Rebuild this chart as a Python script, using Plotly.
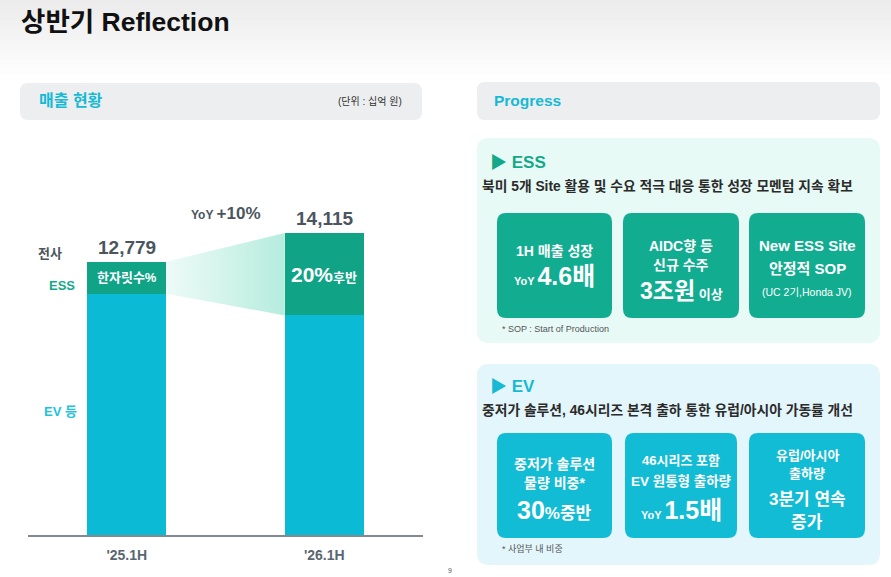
""" Half-year reflection slide: sales bars on the left, progress cards on the right """
import plotly.graph_objects as go

# data
periods = ["'25.1H", "'26.1H"]
total_sales = [12779, 14115]          # 십억 원
ess_sales = [1500, 3850]
ev_sales = [t - e for t, e in zip(total_sales, ess_sales)]
ess_share_labels = ["한자릿수%", "<span style='font-size:21px'>20%</span>후반"]
yoy_label = "+10%"

W, H = 891, 577
FONT = "Liberation Sans, Noto Sans CJK KR"
DARK = "#4b555e"
GREEN = "#14a88a"
CYAN = "#17b9d3"


def px(x):
    return x / W


def py(y):
    return 1 - y / H


def rrect(x0, y0, x1, y1, r):
    """ rounded rectangle path in pixel coords -> paper coords """
    pts = [
        ("M", [(x0 + r, y0)]), ("L", [(x1 - r, y0)]), ("Q", [(x1, y0), (x1, y0 + r)]),
        ("L", [(x1, y1 - r)]), ("Q", [(x1, y1), (x1 - r, y1)]), ("L", [(x0 + r, y1)]),
        ("Q", [(x0, y1), (x0, y1 - r)]), ("L", [(x0, y0 + r)]), ("Q", [(x0, y0), (x0 + r, y0)]),
    ]
    out = ""
    for cmd, ps in pts:
        out += cmd + " " + " ".join("%.5f,%.5f" % (px(a), py(b)) for a, b in ps) + " "
    return out + "Z"


shapes = []
annotations = []


def box(x0, y0, x1, y1, color, r=8):
    shapes.append(dict(type="path", path=rrect(x0, y0, x1, y1, r), xref="paper", yref="paper",
                       fillcolor=color, line_width=0, layer="below"))


def txt(x, y, s, size, color="white", bold=True, xanchor="center"):
    annotations.append(dict(x=px(x), y=py(y), xref="paper", yref="paper", text=("<b>%s</b>" % s) if bold else s,
                            showarrow=False, xanchor=xanchor, yanchor="middle",
                            font=dict(family=FONT, size=size, color=color)))


# top gray fade
steps = 16
for i in range(steps):
    g = int(236 + (255 - 236) * i / (steps - 1))
    shapes.append(dict(type="rect", xref="paper", yref="paper", x0=0, x1=1,
                       y0=py(80 * (i + 1) / steps), y1=py(80 * i / steps),
                       fillcolor="rgb(%d,%d,%d)" % (g, g, g), line_width=0, layer="below"))

# headers
box(20, 83, 422, 120, "#eceef0")
box(477, 82, 880, 120, "#eceef0")
txt(19, 22, "상반기 Reflection", 26.5, "#111111", xanchor="left")
txt(37, 101, "매출 현황", 16, CYAN, xanchor="left")
txt(404, 101, "(단위 : 십억 원)", 10, "#333333", bold=False, xanchor="right")
txt(492, 101, "Progress", 15.5, CYAN, xanchor="left")

# left chart labels
txt(50, 253, "전사", 13, DARK)
txt(62, 285, "ESS", 13, GREEN)
txt(60, 411, "EV 등", 13, "#1ec2dd")

# right panel: ESS
box(477, 138, 880, 343, "#e8faf5", r=12)
txt(488, 162, "▶ ESS", 17, GREEN, xanchor="left")
txt(480, 186, "북미 5개 Site 활용 및 수요 적극 대응 통한 성장 모멘텀 지속 확보", 13.8, "#2b2b2b", xanchor="left")
for x0, x1 in [(497, 612), (623, 739), (749, 865)]:
    box(x0, 213, x1, 318, "#12ad90", r=9)
txt(554, 251, "1H 매출 성장", 14)
txt(554, 276, "<span style='font-size:11px'>YoY </span>4.6배", 25)
txt(681, 246, "AIDC향 등", 14)
txt(681, 265, "신규 수주", 14)
txt(681, 291, "3조원<span style='font-size:13px'> 이상</span>", 23)
txt(807, 246, "New ESS Site", 15)
txt(807, 268, "안정적 SOP", 15)
txt(807, 292, "(UC 2기,Honda JV)", 10.5, bold=False)
txt(500, 329, "* SOP : Start of Production", 9, "#555555", bold=False, xanchor="left")

# right panel: EV
box(477, 364, 880, 565, "#e3f6fb", r=12)
txt(488, 386, "▶ EV", 17, CYAN, xanchor="left")
txt(480, 410, "중저가 솔루션, 46시리즈 본격 출하 통한 유럽/아시아 가동률 개선", 13.8, "#2b2b2b", xanchor="left")
for x0, x1 in [(497, 612), (625, 737), (749, 865)]:
    box(x0, 433, x1, 538, "#13bcd5", r=9)
txt(554, 464, "중저가 솔루션", 14)
txt(554, 483, "물량 비중*", 14)
txt(554, 510, "30<span style='font-size:17px'>%중반</span>", 25)
txt(681, 460, "46시리즈 포함", 13)
txt(681, 482, "EV 원통형 출하량", 13.5)
txt(681, 510, "<span style='font-size:11px'>YoY </span>1.5배", 25)
txt(807, 455, "유럽/아시아", 13)
txt(807, 473, "출하량", 13)
txt(807, 499, "3분기 연속", 17)
txt(807, 522, "증가", 17)
txt(500, 549, "* 사업부 내 비중", 9, "#555555", bold=False, xanchor="left")
txt(450, 570, "9", 7, "#555555", bold=False)

fig = go.Figure()

# connector between the ESS segments
hw = 0.2
fig.add_trace(go.Scatter(
    x=[0 + hw, 0 + hw, 1 - hw, 1 - hw, 0 + hw],
    y=[total_sales[0], ev_sales[0], ev_sales[1], total_sales[1], total_sales[0]],
    mode="lines", fill="toself", line_width=0, hoverinfo="skip", showlegend=False,
    fillgradient=dict(type="horizontal", colorscale=[[0, "rgba(235,250,246,0.9)"], [1, "#b5ecdd"]]),
))

fig.add_trace(go.Bar(x=[0, 1], y=ev_sales, width=0.4, marker=dict(color="#0bbad4", line_width=0),
                     hoverinfo="skip", showlegend=False))
fig.add_trace(go.Bar(x=[0, 1], y=ess_sales, width=0.4, marker=dict(color="#11a386", line_width=0),
                     hoverinfo="skip", showlegend=False))

# totals and share labels
for i, tot in enumerate(total_sales):
    annotations.append(dict(x=i, y=tot, xref="x", yref="y", text="<b>%s</b>" % format(tot, ","),
                            showarrow=False, yanchor="bottom", yshift=2,
                            font=dict(family=FONT, size=19, color=DARK)))
    annotations.append(dict(x=i, y=ev_sales[i] + ess_sales[i] / 2, xref="x", yref="y",
                            text="<b>%s</b>" % ess_share_labels[i], showarrow=False,
                            font=dict(family=FONT, size=13, color="white")))
annotations.append(dict(x=0.5, y=total_sales[1], xref="x", yref="y",
                        text="<b><span style='font-size:12px'>YoY </span>%s</b>" % yoy_label,
                        showarrow=False, yanchor="bottom", yshift=8,
                        font=dict(family=FONT, size=17, color=DARK)))

fig.update_layout(
    width=W, height=H, margin=dict(l=0, r=0, t=0, b=0),
    paper_bgcolor="white", plot_bgcolor="rgba(0,0,0,0)",
    barmode="stack", bargap=0, showlegend=False,
    shapes=shapes, annotations=annotations,
    xaxis=dict(domain=[px(28), px(423)], range=[-0.5, 1.5], tickvals=[0, 1],
               ticktext=["<b>%s</b>" % p for p in periods], showgrid=False, zeroline=False,
               showline=True, linecolor="#808b91", linewidth=2, ticks="", ticklabelstandoff=6,
               tickfont=dict(family=FONT, size=14, color="#5a6670"), fixedrange=True),
    yaxis=dict(domain=[py(535), py(120)], range=[0, 19400], visible=False, fixedrange=True),
)

# drop the page margin so the figure fills the window
fig.write_html("out.html", config={"displayModeBar": False},
               post_script="document.body.style.margin='0';document.body.style.overflow='hidden';")
